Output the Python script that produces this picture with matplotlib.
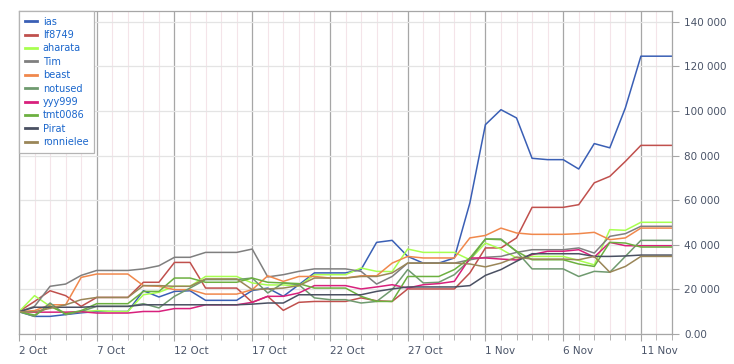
import numpy as np
import matplotlib
matplotlib.use('Agg')
import matplotlib.pyplot as plt
import matplotlib.transforms as mtransforms
from matplotlib.ticker import FixedLocator, MultipleLocator

# days from 2 Oct to 13 Nov
days = np.arange(43)
xtick_pos = [0, 5, 10, 15, 20, 25, 30, 35, 40]
xtick_labels = ['2 Oct', '7 Oct', '12 Oct', '17 Oct', '22 Oct', '27 Oct', '1 Nov', '6 Nov', '11 Nov']
ytick_pos = [0, 20000, 40000, 60000, 80000, 100000, 120000, 140000]
ytick_labels = ['0.00', '20 000', '40 000', '60 000', '80 000', '100 000', '120 000', '140 000']

names = ['ias', 'lf8749', 'aharata', 'Tim', 'beast', 'notused', 'yyy999', 'tmt0086', 'Pirat', 'ronnielee']
colors = ['#3a5fb5', '#c0504d', '#a8ff50', '#7f7f7f', '#f0884c', '#6f9a6f', '#d8207c', '#6cb040', '#4a5062', '#9a8658']

# values in thousands
ias = [10, 7.9, 7.9, 8.7, 9.5, 10.1, 10.1, 10.1, 19.4, 16.6, 19.1, 19.4, 15.1, 15.1, 15.1, 19.5, 20.6, 16.9, 22.1, 27.4,
       27.4, 27.4, 28.9, 41.1, 42, 34.8, 31.8, 31.8, 34.1, 58.8, 93.9, 100.6, 96.9, 78.8, 78.2, 78.2, 74, 85.4, 83.5, 101.4,
       124.6, 124.6, 124.6]
lf8749 = [10.1, 14.6, 19.4, 17.2, 12.4, 16.4, 16.4, 16.4, 23.2, 23.2, 32.1, 32.1, 20.6, 20.6, 20.6, 14.2, 16.9, 10.6, 14.2, 14.6,
          14.6, 14.6, 16.2, 14.9, 14.6, 20.2, 20.2, 20.2, 20.2, 27.4, 38.6, 38.6, 43.1, 56.8, 56.8, 56.8, 58, 67.8, 70.7, 77.4,
          84.6, 84.6, 84.6]
aharata = [10, 17.2, 12.4, 9.5, 10, 10.5, 10.1, 10.1, 17.6, 18.7, 21.4, 21.4, 25.8, 25.8, 25.8, 22.9, 22, 22, 21.5, 26.6,
           26.6, 26.6, 29.6, 28.1, 28, 38.1, 36.6, 36.6, 36.6, 33.3, 40.8, 38.1, 34.1, 34.8, 34.8, 34.8, 33, 31, 46.8, 46.5,
           50.1, 50.1, 50.1]
tim = [10, 12.4, 21.4, 22.4, 26.3, 28.5, 28.5, 28.5, 29.2, 30.6, 34.4, 34.4, 36.6, 36.6, 36.6, 38.1, 25.6, 26.6, 28.1, 29.2,
       29.2, 29.2, 28.1, 22.4, 25.8, 31.8, 31.8, 31.8, 31.8, 33.3, 34.4, 34.8, 36.6, 37.8, 37.8, 37.8, 38.6, 36.3, 43.8, 45,
       48.3, 48.3, 48.3]
beast = [10, 10.5, 13.1, 13.1, 25.4, 26.9, 26.9, 26.9, 21.7, 21.4, 19.9, 19.9, 17.9, 17.9, 17.9, 19.9, 26.1, 23.6, 25.8, 25.8,
         25.1, 25.1, 26.1, 26.1, 31.8, 34.8, 34.1, 34.1, 34.1, 43.1, 44.2, 47.5, 45.3, 44.7, 44.7, 44.7, 45, 45.6, 42.3, 43.1,
         47.5, 47.5, 47.5]
notused = [10, 7.9, 13.9, 8.7, 10.1, 12.4, 12.4, 12.4, 13.6, 11.7, 16.9, 20.6, 24.4, 24.4, 24.4, 25.1, 18.4, 22.9, 22.1, 16.2,
           15.4, 15.4, 13.9, 14.6, 19.9, 28.9, 22.9, 23.2, 26.6, 33.3, 42.6, 42.6, 37, 29.2, 29.2, 29.2, 25.8, 28.1, 27.7, 34.8,
           42, 42, 42]
yyy999 = [10, 9.8, 9.8, 9.8, 10, 9.4, 9.4, 9.4, 10.1, 10.1, 11.4, 11.4, 13.1, 13.1, 13.1, 14.2, 16.9, 16.9, 18.4, 21.7,
          21.7, 21.7, 20.2, 21.1, 22.1, 20.6, 22.1, 22.6, 23.6, 34.1, 34.1, 33.6, 33.2, 35.6, 37.1, 37.1, 37.8, 34.5, 41.1, 39.6,
          39.6, 39.6, 39.6]
tmt0086 = [10, 8.5, 12.5, 9, 10.5, 13.6, 13.6, 13.6, 19.1, 19.1, 25.1, 25.1, 23.2, 23.2, 23.2, 25.1, 23.2, 22.9, 22.6, 20.6,
           20.6, 20.6, 16.9, 14.6, 14.6, 25.8, 25.8, 25.8, 28.9, 34.1, 42.6, 42.3, 37.1, 33.3, 33.3, 33.3, 31.4, 30.3, 41.1, 40.8,
           39, 39, 39]
pirat = [10, 12, 12, 12, 12, 12.4, 12.4, 12.4, 13.1, 13.1, 13.1, 13.1, 13.1, 13.1, 13.1, 13.4, 13.9, 13.9, 17.6, 17.6,
         17.6, 17.6, 17.6, 19.1, 20.2, 21.1, 21.1, 21.1, 21.1, 21.7, 26.3, 28.9, 32.6, 36, 36, 36, 36, 34.8, 34.8, 35,
         35.4, 35.4, 35.4]
ronnielee = [10, 10, 11.5, 13.1, 15.4, 16.4, 16.4, 16.4, 21.7, 21.7, 21.4, 21.4, 24.7, 24.7, 24.7, 19.9, 20.2, 20.6, 21.7, 25.1,
             25.1, 25.1, 25.8, 25.8, 27.4, 31.8, 31.8, 31.8, 31.8, 31.4, 30.1, 31.8, 34.5, 33.6, 33.6, 33.6, 33.3, 34.8, 27.7, 30.3,
             34.8, 34.8, 34.8]

series = [ias, lf8749, aharata, tim, beast, notused, yyy999, tmt0086, pirat, ronnielee]

fig = plt.figure(figsize=(7.34, 3.64), dpi=100)
ax = fig.add_axes([19 / 734, 1 - 334 / 364, (672 - 19) / 734, (334 - 10.7) / 364])

for vals, name, c in zip(series, names, colors):
    ax.plot(days, np.array(vals) * 1000, color=c, lw=1.1, label=name)

ax.set_xlim(0, 42)
ax.set_ylim(0, 145000)

ax.xaxis.set_major_locator(FixedLocator(xtick_pos))
ax.set_xticklabels(xtick_labels, ha='left')
ax.xaxis.set_minor_locator(MultipleLocator(1))
ax.yaxis.tick_right()
ax.set_yticks(ytick_pos)
ax.set_yticklabels(ytick_labels)

# nudge date labels a few pixels right of their tick
shift = mtransforms.ScaledTranslation(3 / 100, 0, fig.dpi_scale_trans)
for lbl in ax.get_xticklabels():
    lbl.set_transform(lbl.get_transform() + shift)

ax.grid(axis='x', which='minor', color='#f4e4e9', lw=0.8)
ax.grid(axis='x', which='major', color='#a6a6a6', lw=0.9)
ax.grid(axis='y', which='major', color='#e4e4e4', lw=0.9)
ax.set_axisbelow(True)

ax.tick_params(axis='x', which='major', length=5, color='#a6a6a6', labelsize=7.5, labelcolor='#4a5468', pad=4)
ax.tick_params(axis='x', which='minor', length=4, color='#a6a6a6')
ax.tick_params(axis='y', length=5, color='#a6a6a6', labelsize=7.5, labelcolor='#4a5468', pad=4)
for s in ax.spines.values():
    s.set_color('#a6a6a6')
    s.set_linewidth(0.9)

leg = ax.legend(loc='upper left', bbox_to_anchor=(0, 1), borderaxespad=0, fontsize=7,
                handlelength=1.3, handletextpad=0.55, labelspacing=0.35, borderpad=0.6,
                fancybox=False, framealpha=1, edgecolor='#b4b4b4')
leg.get_frame().set_linewidth(0.9)
for t in leg.get_texts():
    t.set_color('#1a66cc')
for h in leg.get_lines():
    h.set_linewidth(2)

fig.savefig('out.png', dpi=100)
